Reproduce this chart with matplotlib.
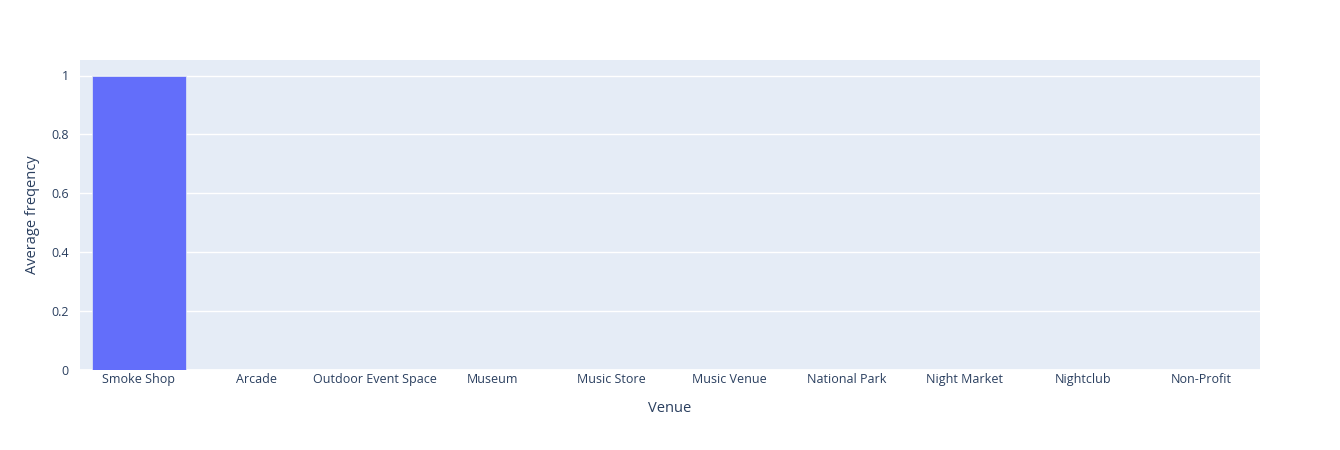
import matplotlib.pyplot as plt
import numpy as np

venues = ["Smoke Shop", "Arcade", "Outdoor Event Space", "Museum", "Music Store",
          "Music Venue", "National Park", "Night Market", "Nightclub", "Non-Profit"]
avg_frequency = [1.0, 0, 0, 0, 0, 0, 0, 0, 0, 0]

plt.rcParams["font.family"] = ["Open Sans", "DejaVu Sans"]
text_color = "#2a3f5f"

fig = plt.figure(figsize=(13.4, 4.5), dpi=100)
ax = fig.add_axes([80 / 1340, 1 - 370 / 450, 1180 / 1340, 310 / 450])
ax.set_facecolor("#E5ECF6")

x = np.arange(len(venues))
ax.bar(x, avg_frequency, width=0.8, color="#636EFA", edgecolor="#E5ECF6",
       linewidth=0.5, zorder=3)

ax.set_xlim(-0.5, len(venues) - 0.5)
ax.set_ylim(0, max(avg_frequency) / 0.95)
ax.set_yticks([0, 0.2, 0.4, 0.6, 0.8, 1])
ax.set_yticklabels(["0", "0.2", "0.4", "0.6", "0.8", "1"])
ax.set_xticks(x)
ax.set_xticklabels(venues)
ax.grid(axis="y", color="white", linewidth=1, zorder=0)
ax.axhline(0, color="white", linewidth=2, zorder=2)
for s in ax.spines.values():
    s.set_visible(False)
ax.tick_params(length=0, labelsize=9, colors=text_color)
ax.tick_params(axis="x", pad=2)
ax.tick_params(axis="y", pad=8)

ax.set_xlabel("Venue", fontsize=10.5, color=text_color, labelpad=11)
ax.set_ylabel("Average freqency", fontsize=10.5, color=text_color, labelpad=8)

fig.savefig("out.png", dpi=100)
